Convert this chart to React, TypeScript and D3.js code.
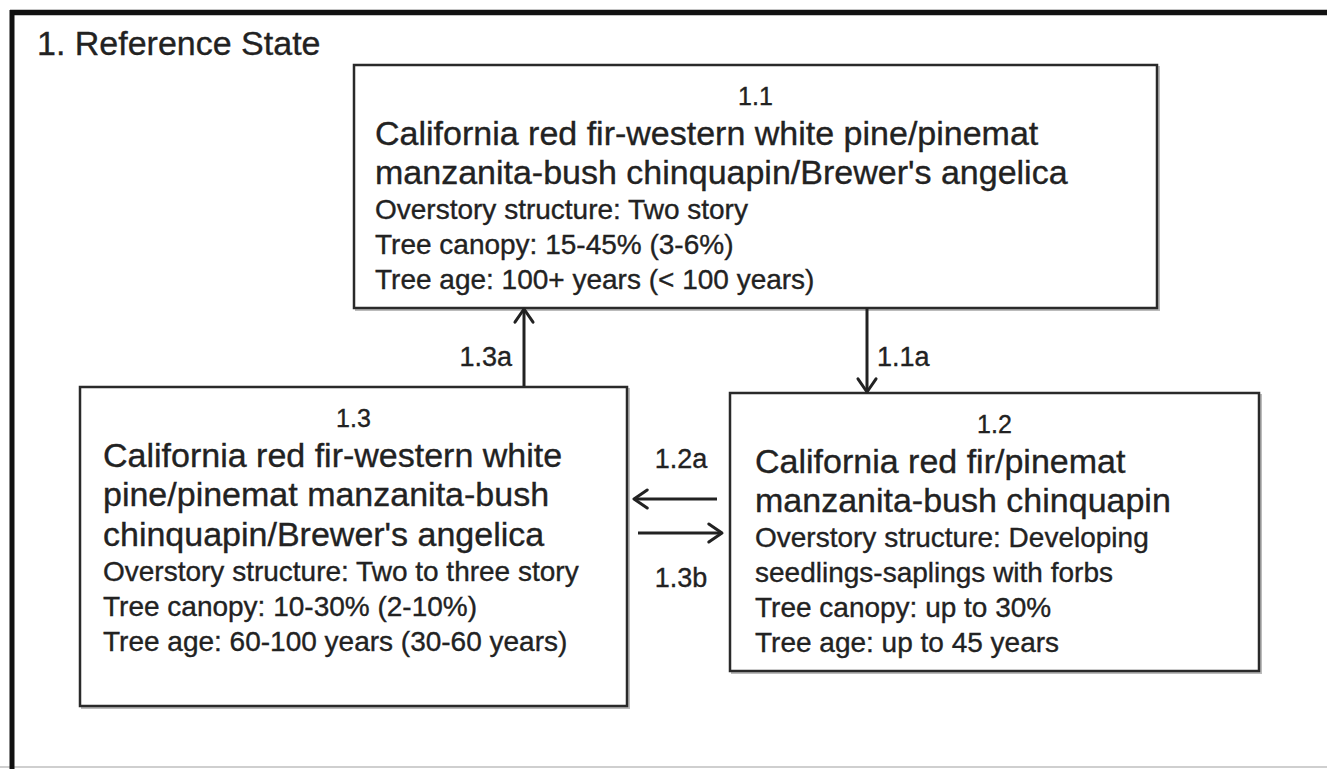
import React, { useEffect, useRef } from 'react';
import * as d3 from 'd3';

// diagram content
const title = '1. Reference State';
const stateIds = ['1.1', '1.2', '1.3'];
const stateNames = [
  ['California red fir-western white pine/pinemat', "manzanita-bush chinquapin/Brewer's angelica"],
  ['California red fir/pinemat', 'manzanita-bush chinquapin'],
  ['California red fir-western white', 'pine/pinemat manzanita-bush', "chinquapin/Brewer's angelica"],
];
const stateDetails = [
  ['Overstory structure: Two story', 'Tree canopy: 15-45% (3-6%)', 'Tree age: 100+ years (< 100 years)'],
  ['Overstory structure: Developing', 'seedlings-saplings with forbs', 'Tree canopy: up to 30%', 'Tree age: up to 45 years'],
  ['Overstory structure: Two to three story', 'Tree canopy: 10-30% (2-10%)', 'Tree age: 60-100 years (30-60 years)'],
];
const transitionLabels = ['1.1a', '1.2a', '1.3a', '1.3b'];
const transitionFrom = ['1.1', '1.2', '1.3', '1.3'];
const transitionTo = ['1.2', '1.3', '1.1', '1.2'];

// layout (pixels)
const W = 1327;
const H = 769;
const boxLayout: Record<string, { x: number; y: number; w: number; h: number; pad: number }> = {
  '1.1': { x: 354, y: 65, w: 803, h: 243, pad: 21 },
  '1.2': { x: 730, y: 393, w: 529, h: 278, pad: 25 },
  '1.3': { x: 80, y: 387, w: 547, h: 319, pad: 23 },
};
const arrowLayout: Record<string, { x1: number; y1: number; x2: number; y2: number; lx: number; ly: number; anchor: string }> = {
  '1.1a': { x1: 867, y1: 308, x2: 867, y2: 392, lx: 877, ly: 366, anchor: 'start' },
  '1.2a': { x1: 717, y1: 499, x2: 634, y2: 499, lx: 681, ly: 468, anchor: 'middle' },
  '1.3a': { x1: 524, y1: 386, x2: 524, y2: 309, lx: 512, ly: 366, anchor: 'end' },
  '1.3b': { x1: 638, y1: 533, x2: 722, y2: 533, lx: 681, ly: 587, anchor: 'middle' },
};

const FONT = '"Liberation Sans", Arial, sans-serif';
const INK = '#222';

const App = () => {
  const svgRef = useRef<SVGSVGElement>(null);

  useEffect(() => {
    const svg = d3.select(svgRef.current);
    svg.selectAll('*').remove();

    // outer frame: thick top and left, faint bottom
    svg.append('line').attr('x1', 0).attr('x2', W).attr('y1', H - 2).attr('y2', H - 2)
      .attr('stroke', '#cfcfcf').attr('stroke-width', 2);
    svg.append('line').attr('x1', 10).attr('x2', W).attr('y1', 12.5).attr('y2', 12.5)
      .attr('stroke', '#111').attr('stroke-width', 5.5);
    svg.append('line').attr('x1', 12).attr('x2', 12).attr('y1', 10).attr('y2', H)
      .attr('stroke', '#111').attr('stroke-width', 5);

    const txt = (sel: any, size: number) =>
      sel.attr('font-family', FONT).attr('font-size', size).attr('fill', INK)
        .attr('stroke', INK).attr('stroke-width', 0.35);

    txt(svg.append('text').attr('x', 37).attr('y', 55).text(title), 34);

    // state boxes
    const boxes = svg.selectAll('g.state')
      .data(stateIds)
      .enter()
      .append('g')
      .attr('class', 'state')
      .attr('transform', d => `translate(${boxLayout[d].x},${boxLayout[d].y})`);

    boxes.append('rect')
      .attr('x', 2).attr('y', 2)
      .attr('width', d => boxLayout[d].w).attr('height', d => boxLayout[d].h)
      .attr('fill', 'none').attr('stroke', '#bbb').attr('stroke-width', 2);

    boxes.append('rect')
      .attr('width', d => boxLayout[d].w).attr('height', d => boxLayout[d].h)
      .attr('fill', '#fff').attr('stroke', '#2a2a2a').attr('stroke-width', 2.5);

    txt(boxes.append('text')
      .attr('x', d => boxLayout[d].w / 2).attr('y', 40)
      .attr('text-anchor', 'middle')
      .text(d => d), 25);

    boxes.each(function (d, i) {
      const g = d3.select(this);
      const pad = boxLayout[d].pad;
      let y = 40;
      stateNames[i].forEach(line => {
        y += 39.5;
        txt(g.append('text').attr('x', pad).attr('y', y).text(line), 34);
      });
      stateDetails[i].forEach(line => {
        y += 35;
        txt(g.append('text').attr('x', pad).attr('y', y).text(line), 28);
      });
    });

    // transitions
    const head = (a: { x1: number; y1: number; x2: number; y2: number }) => {
      const ang = Math.atan2(a.y2 - a.y1, a.x2 - a.x1);
      const len = 16;
      const spread = 0.6;
      const p = d3.path();
      p.moveTo(a.x2 - len * Math.cos(ang - spread), a.y2 - len * Math.sin(ang - spread));
      p.lineTo(a.x2, a.y2);
      p.lineTo(a.x2 - len * Math.cos(ang + spread), a.y2 - len * Math.sin(ang + spread));
      return p.toString();
    };

    const arrows = svg.selectAll('g.transition')
      .data(transitionLabels.map((label, i) => ({ label, from: transitionFrom[i], to: transitionTo[i], ...arrowLayout[label] })))
      .enter()
      .append('g')
      .attr('class', 'transition');

    arrows.append('line')
      .attr('x1', d => d.x1).attr('y1', d => d.y1)
      .attr('x2', d => d.x2).attr('y2', d => d.y2)
      .attr('stroke', INK).attr('stroke-width', 3);

    arrows.append('path')
      .attr('d', d => head(d))
      .attr('fill', 'none').attr('stroke', INK).attr('stroke-width', 3)
      .attr('stroke-linecap', 'round').attr('stroke-linejoin', 'round');

    txt(arrows.append('text')
      .attr('x', d => d.lx).attr('y', d => d.ly)
      .attr('text-anchor', d => d.anchor)
      .text(d => d.label), 27);
  }, []);

  return (
    <svg
      ref={svgRef}
      width={W}
      height={H}
      style={{ position: 'absolute', left: 0, top: 0, background: '#fff' }}
    />
  );
};

export default App;
